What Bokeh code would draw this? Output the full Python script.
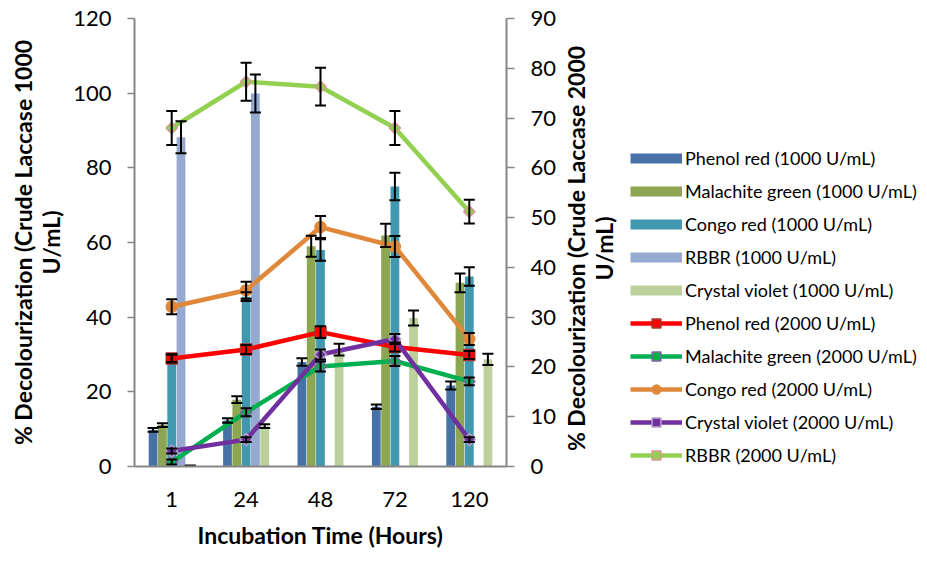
import math
from bokeh.plotting import figure
from bokeh.layouts import row
from bokeh.models import (ColumnDataSource, FactorRange, Range1d, LinearAxis, FixedTicker,
                          Whisker, TeeHead, Legend, LegendItem, Label)
from bokeh.transform import dodge
from bokeh.embed import file_html
from bokeh.resources import INLINE

hours = ["1", "24", "48", "72", "120"]

# Crude laccase 1000 U/mL (bars, left axis)
phenol_1000 = [9.8, 12.3, 28.0, 16.0, 21.7]
phenol_1000_err = [0.5, 0.6, 1.0, 0.6, 1.1]
malachite_1000 = [11.1, 17.9, 59.0, 61.9, 49.2]
malachite_1000_err = [0.5, 0.9, 2.8, 3.1, 2.5]
congo_1000 = [29.0, 45.5, 58.0, 75.0, 50.9]
congo_1000_err = [1.0, 1.2, 2.9, 3.7, 2.5]
rbbr_1000 = [88.2, 99.9, 0.0, 0.0, 0.0]
rbbr_1000_err = [4.3, 5.1, 0.0, 0.0, 0.0]
crystal_1000 = [0.0, 10.8, 31.3, 39.8, 28.7]
crystal_1000_err = [0.3, 0.5, 1.6, 2.0, 1.5]

# Crude laccase 2000 U/mL (lines, right axis)
phenol_2000 = [21.7, 23.5, 27.0, 24.0, 22.4]
phenol_2000_err = [0.8, 0.9, 1.2, 0.9, 0.8]
malachite_2000 = [0.9, 10.9, 20.1, 21.2, 17.1]
malachite_2000_err = [0.5, 0.8, 1.0, 1.0, 0.8]
congo_2000 = [32.1, 35.4, 48.1, 44.2, 25.6]
congo_2000_err = [1.5, 1.7, 2.2, 2.1, 1.2]
crystal_2000 = [3.1, 5.4, 22.5, 25.6, 5.4]
crystal_2000_err = [0.5, 0.5, 1.0, 1.0, 0.5]
rbbr_2000 = [68.0, 77.3, 76.3, 68.0, 51.2]
rbbr_2000_err = [3.4, 3.8, 3.8, 3.4, 2.4]

left_ticks = [0, 20, 40, 60, 80, 100, 120]
right_ticks = [0, 10, 20, 30, 40, 50, 60, 70, 80, 90]

x_title = "Incubation Time (Hours)"
left_title = "% Decolourization (Crude Laccase 1000\nU/mL)"
right_title = "% Decolourization (Crude Laccase 2000\nU/mL)"

FONT = "Lato"
AXIS_GRAY = "#868686"
TICK_FS = "22px"
TITLE_FS = "23px"
LEG_FS = "18px"

TOTAL_W = 927
TOTAL_H = 569
FRAME_LEFT = 134
FRAME_W = 372
RIGHT_AXIS_W = 56
MAIN_W = FRAME_LEFT + FRAME_W + RIGHT_AXIS_W
FRAME_BOTTOM = 466
FRAME_TOP = 18

p = figure(x_range=FactorRange(*hours, range_padding=0), y_range=Range1d(0, 120),
           frame_width=FRAME_W, frame_height=FRAME_BOTTOM - FRAME_TOP,
           min_border_left=FRAME_LEFT, min_border_right=RIGHT_AXIS_W,
           min_border_top=FRAME_TOP, min_border_bottom=TOTAL_H - FRAME_BOTTOM,
           output_backend="svg", toolbar_location=None)
p.extra_y_ranges = {"y2": Range1d(0, 90)}
p.xgrid.visible = False
p.ygrid.visible = False
p.outline_line_color = None

# side figure (no axes) holding the right-axis title and the legend
pl = figure(width=TOTAL_W - MAIN_W - 2, height=TOTAL_H, x_range=Range1d(0, 1), y_range=Range1d(0, 1),
            min_border=0, min_border_left=0, min_border_right=0, min_border_top=0, min_border_bottom=0,
            x_axis_location=None, y_axis_location=None,
            output_backend="svg", toolbar_location=None)
pl.xgrid.visible = False
pl.ygrid.visible = False
pl.outline_line_color = None

bar_series = [
    ("Phenol red (1000 U/mL)", phenol_1000, phenol_1000_err, "#4672A8"),
    ("Malachite green (1000 U/mL)", malachite_1000, malachite_1000_err, "#8CA652"),
    ("Congo red (1000 U/mL)", congo_1000, congo_1000_err, "#4198AF"),
    ("RBBR (1000 U/mL)", rbbr_1000, rbbr_1000_err, "#95A9D1"),
    ("Crystal violet (1000 U/mL)", crystal_1000, crystal_1000_err, "#BCD09B"),
]
step = 0.125
legend_items = []
whiskers = []
for i, (name, vals, errs, col) in enumerate(bar_series):
    off = (i - 2) * step
    src = ColumnDataSource(dict(x=hours, top=vals))
    p.vbar(x=dodge("x", off, range=p.x_range), top="top", width=0.118, source=src,
           fill_color=col, line_color=None)
    # off-range swatch proxy (flat 10 px band) for the legend
    swatch = pl.line(x=[-5, -4], y=[-5, -5], line_color=col, line_width=10, line_cap="butt")
    legend_items.append(LegendItem(label=name, renderers=[swatch]))
    keep = [k for k in range(len(hours)) if vals[k] > 0 or name.startswith("Crystal")]
    wsrc = ColumnDataSource(dict(x=[hours[k] for k in keep],
                                 upper=[vals[k] + errs[k] for k in keep],
                                 lower=[max(vals[k] - errs[k], 0) for k in keep]))
    whiskers.append(Whisker(source=wsrc, base=dodge("x", off, range=p.x_range),
                            upper="upper", lower="lower",
                            line_color="black", line_width=2, level="glyph",
                            upper_head=TeeHead(size=11, line_color="black", line_width=2),
                            lower_head=TeeHead(size=11, line_color="black", line_width=2)))

line_series = [
    ("Phenol red (2000 U/mL)", phenol_2000, phenol_2000_err, "#FF0000", "square", 0.0, 11, "#FF0000", "#A83232"),
    ("Malachite green (2000 U/mL)", malachite_2000, malachite_2000_err, "#00B050", "square", math.pi / 4, 8, "#00B050", "#8064A2"),
    ("Congo red (2000 U/mL)", congo_2000, congo_2000_err, "#E0883A", "circle", 0.0, 11, "#E0883A", "#E0883A"),
    ("Crystal violet (2000 U/mL)", crystal_2000, crystal_2000_err, "#7030A0", "square", math.pi / 4, 8.5, "#7030A0", "#B3A2C7"),
    ("RBBR (2000 U/mL)", rbbr_2000, rbbr_2000_err, "#92D050", "square", math.pi / 4, 8, "#92D050", "#D99694"),
]
for name, vals, errs, col, mk, ang, sz, fc, lc in line_series:
    src = ColumnDataSource(dict(x=hours, y=vals))
    p.line(x="x", y="y", source=src, line_color=col, line_width=4.5, y_range_name="y2")
    p.scatter(x="x", y="y", source=src, marker=mk, angle=ang, size=sz,
              fill_color=fc, line_color=lc, line_width=1.5, y_range_name="y2")
    pr_line = pl.line(x=[-5, -4], y=[-5, -5], line_color=col, line_width=4.5)
    pr_mark = pl.scatter(x=[-5], y=[-5], marker=mk, angle=ang, size=sz,
                         fill_color=fc, line_color=lc, line_width=1.5)
    legend_items.append(LegendItem(label=name, renderers=[pr_line, pr_mark]))
    wsrc = ColumnDataSource(dict(x=hours,
                                 upper=[v + e for v, e in zip(vals, errs)],
                                 lower=[v - e for v, e in zip(vals, errs)]))
    whiskers.append(Whisker(source=wsrc, base="x", upper="upper", lower="lower", y_range_name="y2",
                            line_color="black", line_width=2, level="glyph",
                            upper_head=TeeHead(size=11, line_color="black", line_width=2),
                            lower_head=TeeHead(size=11, line_color="black", line_width=2)))

for w in whiskers:
    p.add_layout(w)

# axes
xa = p.xaxis[0]
xa.axis_label = x_title
ya = p.yaxis[0]
ya.axis_label = left_title
ya.ticker = FixedTicker(ticks=left_ticks)
ya2 = LinearAxis(y_range_name="y2", ticker=FixedTicker(ticks=right_ticks))
p.add_layout(ya2, "right")

for ax in (xa, ya, ya2):
    ax.axis_line_color = AXIS_GRAY
    ax.axis_line_width = 2
    ax.major_tick_line_color = AXIS_GRAY
    ax.major_tick_line_width = 1.5
    ax.minor_tick_line_color = None
    ax.major_label_text_font = FONT
    ax.major_label_text_font_size = TICK_FS
    ax.major_label_text_color = "black"
    ax.axis_label_text_font = FONT
    ax.axis_label_text_font_size = TITLE_FS
    ax.axis_label_text_font_style = "bold"
    ax.axis_label_text_color = "black"

ya.axis_label_text_line_height = 1.0
xa.major_tick_out = 0
xa.major_tick_in = 0
xa.major_label_standoff = 25
xa.axis_label_standoff = 11
ya.major_tick_out = 7
ya.major_tick_in = 0
ya.major_label_standoff = 16
ya.axis_label_standoff = 5
ya2.major_tick_out = 8
ya2.major_tick_in = 0
ya2.major_label_standoff = 16

# right-axis title, reading bottom-to-top (screen units relative to the side frame)
pl.add_layout(Label(x=27, y=FRAME_BOTTOM - 248, x_units="screen", y_units="screen",
                    text=right_title, angle=math.pi / 2, text_align="center", text_baseline="middle",
                    text_font=FONT, text_font_size=TITLE_FS, text_font_style="bold",
                    text_color="black", text_line_height=1.0))

# legend inside the side frame (which is aligned to the main frame: page y 18..466)
pitch = 33
row_h = 22
first_center = 158
n_items = len(legend_items)
bottom_page = first_center + (n_items - 1) * pitch + row_h / 2
legend_x_page = 630
legend = Legend(items=legend_items,
                location=(legend_x_page - MAIN_W, FRAME_BOTTOM - bottom_page),
                orientation="vertical", glyph_width=52, glyph_height=row_h,
                label_height=row_h, spacing=pitch - row_h, padding=0, margin=0,
                border_line_color=None, background_fill_alpha=0,
                label_standoff=3, label_text_font=FONT, label_text_font_size=LEG_FS,
                label_text_color="black")
pl.add_layout(legend, "center")

layout = row(p, pl, spacing=0)
open("out.html", "w").write(file_html(layout, INLINE))
